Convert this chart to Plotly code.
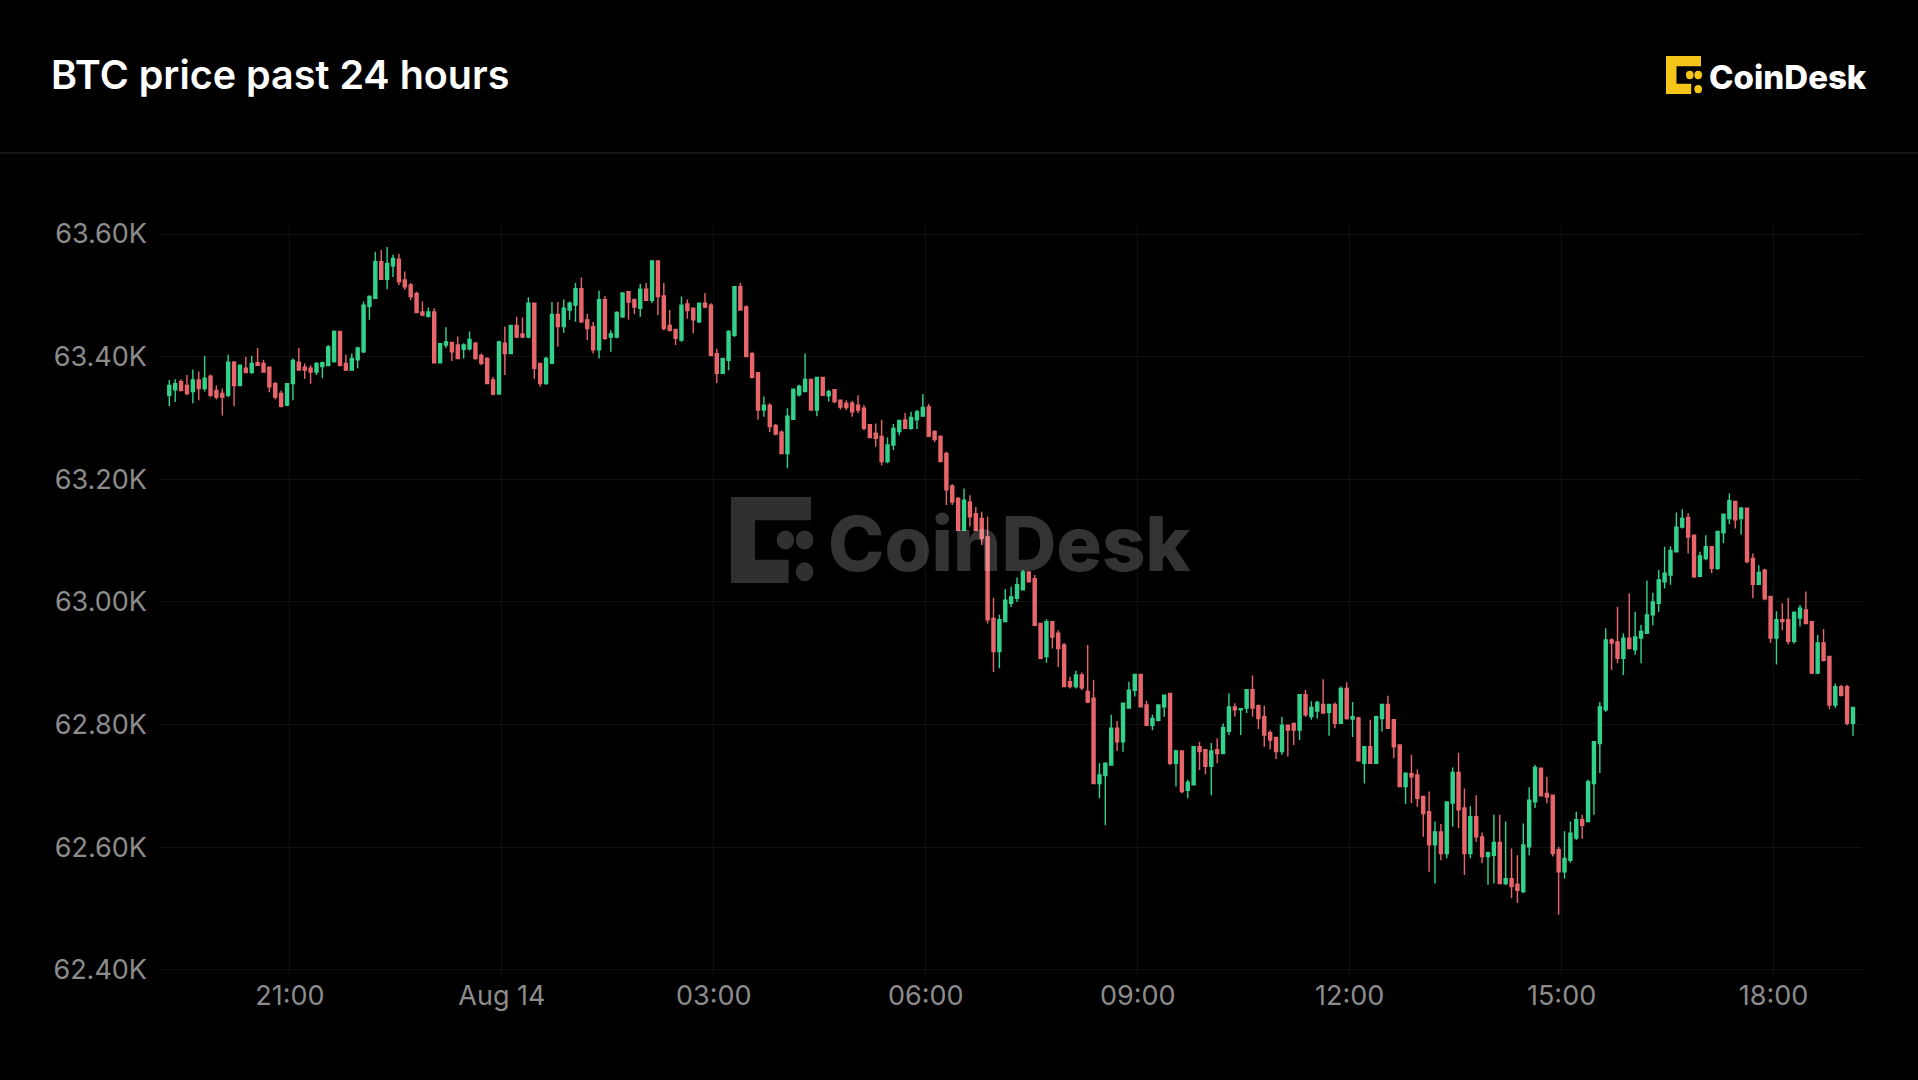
import plotly.graph_objects as go
import pandas as pd

# ---------------- data (BTC-USD, 5-minute candles, stamped at mid-interval) ----------------
opens = [63337,63346,63359,63353,63343,63362,63348,63368,63345,63340,63337,63391,63353,63381,63374,63390,63389,63383,63356,63340,
63321,63356,63391,63383,63381,63375,63384,63386,63392,63441,63389,63378,63395,63408,63482,63495,63555,63526,63548,63559,
63525,63517,63503,63473,63466,63473,63390,63419,63423,63419,63412,63413,63422,63402,63397,63362,63339,63422,63405,63451,
63437,63432,63487,63389,63356,63389,63469,63449,63476,63484,63511,63460,63449,63411,63493,63432,63432,63465,63506,63493,
63479,63510,63492,63556,63499,63451,63444,63427,63486,63479,63457,63487,63484,63405,63373,63394,63435,63514,63481,63405,
63374,63313,63321,63288,63277,63242,63298,63338,63343,63363,63313,63366,63336,63346,63329,63324,63324,63321,63316,63289,
63275,63270,63229,63256,63278,63297,63283,63297,63303,63318,63278,63270,63242,63189,63169,63117,63163,63144,63136,63106,
62973,62919,62968,62998,63006,63020,63049,63038,62965,62911,62968,62949,62930,62870,62862,62881,62854,62843,62704,62717,
62734,62794,62772,62827,62856,62882,62832,62799,62807,62829,62851,62737,62757,62693,62702,62764,62759,62732,62759,62753,
62789,62829,62824,62827,62857,62831,62813,62787,62779,62756,62799,62802,62791,62849,62813,62822,62833,62820,62833,62802,
62859,62809,62811,62737,62764,62737,62810,62833,62808,62767,62699,62720,62718,62683,62658,62604,62625,62590,62672,62722,
62664,62590,62650,62617,62585,62587,62608,62541,62549,62540,62528,62601,62674,62729,62688,62685,62596,62560,62579,62615,
62645,62642,62704,62769,62824,62938,62935,62908,62941,62922,62941,62949,62979,62998,63033,63044,63082,63122,63138,63109,
63042,63071,63090,63055,63113,63136,63164,63136,63153,63071,63029,63052,63009,62941,62971,62971,62936,62974,62987,62968,
62884,62933,62911,62832,62862,62862,62802]
highs = [63362,63363,63363,63370,63379,63376,63401,63371,63353,63348,63403,63393,63387,63400,63401,63414,63395,63384,63359,63345,
63357,63397,63414,63389,63386,63391,63392,63419,63443,63441,63403,63405,63416,63490,63500,63571,63574,63579,63566,63568,
63539,63520,63506,63490,63480,63479,63422,63448,63424,63433,63422,63441,63424,63405,63399,63367,63426,63449,63452,63465,
63464,63497,63487,63390,63400,63489,63489,63493,63490,63520,63529,63470,63457,63508,63499,63443,63474,63505,63506,63495,
63519,63520,63557,63557,63520,63476,63446,63498,63493,63479,63488,63504,63487,63413,63397,63443,63515,63520,63484,63408,
63375,63335,63324,63290,63280,63316,63347,63354,63405,63363,63366,63366,63346,63347,63329,63329,63328,63337,63321,63289,
63291,63297,63268,63290,63297,63308,63310,63313,63339,63323,63280,63272,63245,63192,63171,63185,63174,63155,63147,63139,
63007,62979,63021,63025,63040,63052,63049,63044,62965,62972,62968,62954,62933,62878,62888,62885,62930,62873,62737,62737,
62816,62806,62835,62870,62882,62882,62839,62816,62832,62848,62851,62759,62757,62710,62764,62772,62760,62770,62778,62802,
62851,62835,62827,62857,62880,62833,62831,62791,62779,62813,62799,62802,62849,62857,62838,62839,62874,62833,62836,62862,
62869,62837,62813,62764,62808,62813,62833,62847,62808,62767,62722,62751,62727,62683,62691,62642,62638,62674,62730,62754,
62696,62667,62685,62624,62593,62653,62653,62642,62598,62587,62639,62698,62734,62729,62715,62685,62601,62626,62642,62658,
62653,62710,62772,62837,62957,62941,62992,62949,63014,62984,62963,63035,63015,63052,63090,63091,63146,63151,63145,63109,
63082,63109,63090,63115,63143,63177,63164,63155,63154,63079,63060,63054,63010,62985,62998,63007,62985,62995,63017,62969,
62946,62956,62911,62867,62865,62865,62829]
lows = [63319,63326,63343,63337,63324,63329,63343,63334,63330,63304,63334,63319,63352,63374,63372,63386,63374,63342,63330,63317,
63319,63329,63378,63364,63356,63370,63365,63384,63390,63384,63378,63378,63381,63406,63460,63495,63526,63510,63530,63517,
63509,63492,63471,63466,63464,63390,63390,63414,63393,63397,63397,63410,63395,63386,63355,63337,63339,63370,63404,63430,
63430,63430,63364,63351,63354,63388,63416,63439,63460,63457,63455,63427,63405,63397,63427,63408,63430,63463,63460,63469,
63465,63491,63487,63468,63443,63441,63419,63424,63462,63438,63455,63479,63402,63357,63373,63378,63432,63476,63400,63366,
63297,63302,63277,63272,63242,63218,63298,63335,63343,63313,63303,63336,63327,63324,63314,63313,63302,63308,63280,63267,
63253,63223,63226,63248,63272,63283,63281,63282,63303,63270,63261,63229,63158,63158,63117,63117,63123,63117,63093,62965,
62886,62892,62968,62992,63000,63020,63033,62962,62908,62901,62924,62894,62862,62859,62859,62856,62835,62704,62680,62636,
62734,62757,62756,62827,62846,62829,62799,62791,62805,62813,62734,62699,62688,62680,62702,62726,62719,62685,62737,62753,
62783,62813,62783,62819,62813,62793,62764,62760,62744,62751,62748,62767,62775,62813,62808,62810,62819,62782,62794,62802,
62808,62780,62740,62704,62737,62737,62789,62793,62745,62699,62671,62672,62666,62617,62560,62541,62579,62582,62634,62631,
62555,62582,62609,62574,62539,62541,62540,62538,62517,62509,62525,62587,62664,62683,62672,62585,62490,62549,62575,62612,
62614,62642,62653,62721,62821,62889,62900,62881,62923,62914,62900,62949,62962,62984,63022,63028,63082,63120,63079,63039,
63042,63068,63047,63052,63096,63127,63120,63110,63063,63006,63029,63003,62933,62898,62954,62931,62932,62960,62964,62882,
62882,62903,62825,62827,62846,62799,62782]
closes = [63353,63356,63345,63340,63362,63348,63365,63337,63334,63334,63391,63353,63386,63374,63389,63386,63375,63351,63334,63319,
63356,63394,63378,63378,63375,63389,63390,63416,63441,63386,63378,63397,63414,63484,63498,63555,63526,63552,63560,63522,
63514,63498,63472,63468,63473,63390,63421,63424,63408,63397,63419,63428,63397,63389,63356,63339,63424,63405,63451,63432,
63432,63487,63381,63356,63397,63469,63449,63479,63487,63511,63457,63446,63411,63493,63430,63437,63472,63504,63489,63481,
63510,63492,63556,63498,63446,63443,63430,63484,63475,63460,63487,63481,63402,63373,63397,63441,63514,63476,63400,63366,
63313,63321,63286,63274,63242,63303,63347,63352,63363,63313,63366,63337,63343,63327,63318,63317,63310,63313,63283,63268,
63267,63229,63256,63283,63296,63283,63301,63310,63317,63270,63265,63229,63183,63163,63117,63166,63139,63117,63104,62971,
62919,62971,63003,63008,63028,63049,63033,62962,62908,62968,62943,62924,62862,62862,62881,62860,62837,62704,62718,62737,
62794,62772,62835,62856,62882,62829,62799,62810,62832,62848,62737,62757,62691,62706,62764,62756,62732,62757,62753,62795,
62829,62824,62826,62857,62827,62810,62783,62775,62756,62799,62791,62791,62849,62816,62828,62836,62819,62833,62802,62859,
62810,62813,62741,62764,62737,62813,62833,62794,62764,62699,62721,62715,62680,62655,62604,62625,62590,62674,62722,62661,
62590,62650,62617,62585,62591,62608,62541,62549,62536,62530,62604,62677,62730,62684,62682,62590,62560,62582,62623,62645,
62636,62707,62772,62829,62938,62933,62908,62941,62924,62943,62952,62979,63000,63036,63047,63084,63122,63136,63106,63041,
63075,63090,63055,63115,63143,63165,63134,63153,63066,63029,63048,63005,62941,62971,62968,62936,62983,62990,62965,62884,
62933,62905,62832,62862,62848,62802,62828]

start_time = "2024-08-13 19:17:30"
tick_times = ["2024-08-13 21:00", "2024-08-14 00:00", "2024-08-14 03:00", "2024-08-14 06:00",
              "2024-08-14 09:00", "2024-08-14 12:00", "2024-08-14 15:00", "2024-08-14 18:00"]
tick_labels = ["21:00", "Aug 14", "03:00", "06:00", "09:00", "12:00", "15:00", "18:00"]
price_ticks = [62400, 62600, 62800, 63000, 63200, 63400, 63600]
price_labels = ["62.40K", "62.60K", "62.80K", "63.00K", "63.20K", "63.40K", "63.60K"]

title_text = "BTC price past 24 hours"
brand_text = "CoinDesk"

# ---------------- layout geometry ----------------
W, H = 1918, 1080
L, R, T, B = 160, 1862, 226, 975
first_px, step_px = 169.3, 5.887

times = pd.date_range(pd.Timestamp(start_time), periods=len(closes), freq="5min")
t0 = pd.Timestamp(start_time)
xr = [t0 + pd.Timedelta(minutes=5 * (L - first_px) / step_px),
      t0 + pd.Timedelta(minutes=5 * (R - first_px) / step_px)]
yr = [63600 - (B - 234) / 0.6133, 63600 - (T - 234) / 0.6133]

def px(x):
    return (x - L) / (R - L)

def py(y):
    return (B - y) / (B - T)

GREEN = "#33d28c"
RED = "#e8666b"

fig = go.Figure(go.Candlestick(
    x=times, open=opens, high=highs, low=lows, close=closes,
    increasing=dict(line=dict(color=GREEN, width=1.4), fillcolor=GREEN),
    decreasing=dict(line=dict(color=RED, width=1.4), fillcolor=RED),
    whiskerwidth=0, hoverinfo="skip", showlegend=False,
))

shapes = []
annotations = []

def add_icon(x0, y0, w, h, color, layer):
    pts = [(0, 0), (1, 0), (1, 0.27), (0.3, 0.27), (0.3, 0.73), (0.72, 0.73), (0.72, 1), (0, 1)]
    path = "M " + " L ".join(f"{px(x0 + u * w):.5f},{py(y0 + v * h):.5f}" for u, v in pts) + " Z"
    shapes.append(dict(type="path", path=path, xref="paper", yref="paper",
                       fillcolor=color, line=dict(width=0), layer=layer))
    r = 0.11
    for (u, v) in [(0.68, 0.5), (0.92, 0.5), (0.92, 0.87)]:
        shapes.append(dict(type="circle", xref="paper", yref="paper",
                           x0=px(x0 + (u - r) * w), x1=px(x0 + (u + r) * w),
                           y0=py(y0 + (v + r) * h), y1=py(y0 + (v - r) * h),
                           fillcolor=color, line=dict(width=0), layer=layer))

# header separator
shapes.append(dict(type="line", xref="paper", yref="paper", x0=px(0), x1=px(W),
                   y0=py(153), y1=py(153), line=dict(color="#1e1e1e", width=1.5), layer="above"))

# logo icons
add_icon(1666, 56, 35, 38, "#f5c518", "above")
add_icon(731, 497, 80, 86, "#303030", "below")

annotations.append(dict(text=title_text, xref="paper", yref="paper", x=px(49), y=py(75),
                        xanchor="left", yanchor="middle", showarrow=False,
                        font=dict(family="Inter", size=39.5, color="#ffffff", weight=600)))
annotations.append(dict(text=brand_text, xref="paper", yref="paper", x=px(1707), y=py(77),
                        xanchor="left", yanchor="middle", showarrow=False,
                        font=dict(family="Inter", size=33, color="#ffffff", weight=800)))
annotations.append(dict(text=brand_text, xref="paper", yref="paper", x=px(826), y=py(543),
                        xanchor="left", yanchor="middle", showarrow=False,
                        font=dict(family="Inter", size=76, color="rgba(255,255,255,0.2)", weight=800)))

fig.update_layout(
    width=W, height=H,
    margin=dict(l=L, r=W - R, t=T, b=H - B, pad=0),
    paper_bgcolor="#000000", plot_bgcolor="#000000",
    font=dict(family="Inter", color="#8c8c8c", size=27),
    shapes=shapes, annotations=annotations, boxgap=0.27,
    xaxis=dict(type="date", range=xr, rangeslider=dict(visible=False),
               tickvals=tick_times, ticktext=tick_labels,
               showgrid=True, gridcolor="#101010", gridwidth=1,
               zeroline=False, showline=False, ticks="",
               tickfont=dict(size=27, color="#8c8c8c"), ticklabelstandoff=2),
    yaxis=dict(range=yr, tickvals=price_ticks, ticktext=price_labels,
               showgrid=True, gridcolor="#101010", gridwidth=1,
               zeroline=False, showline=False, ticks="",
               tickfont=dict(size=27, color="#8c8c8c"), ticklabelstandoff=12),
)

fig.write_html("out.html", config={"displayModeBar": False},
               post_script="document.body.style.margin='0';document.body.style.overflow='hidden';")
